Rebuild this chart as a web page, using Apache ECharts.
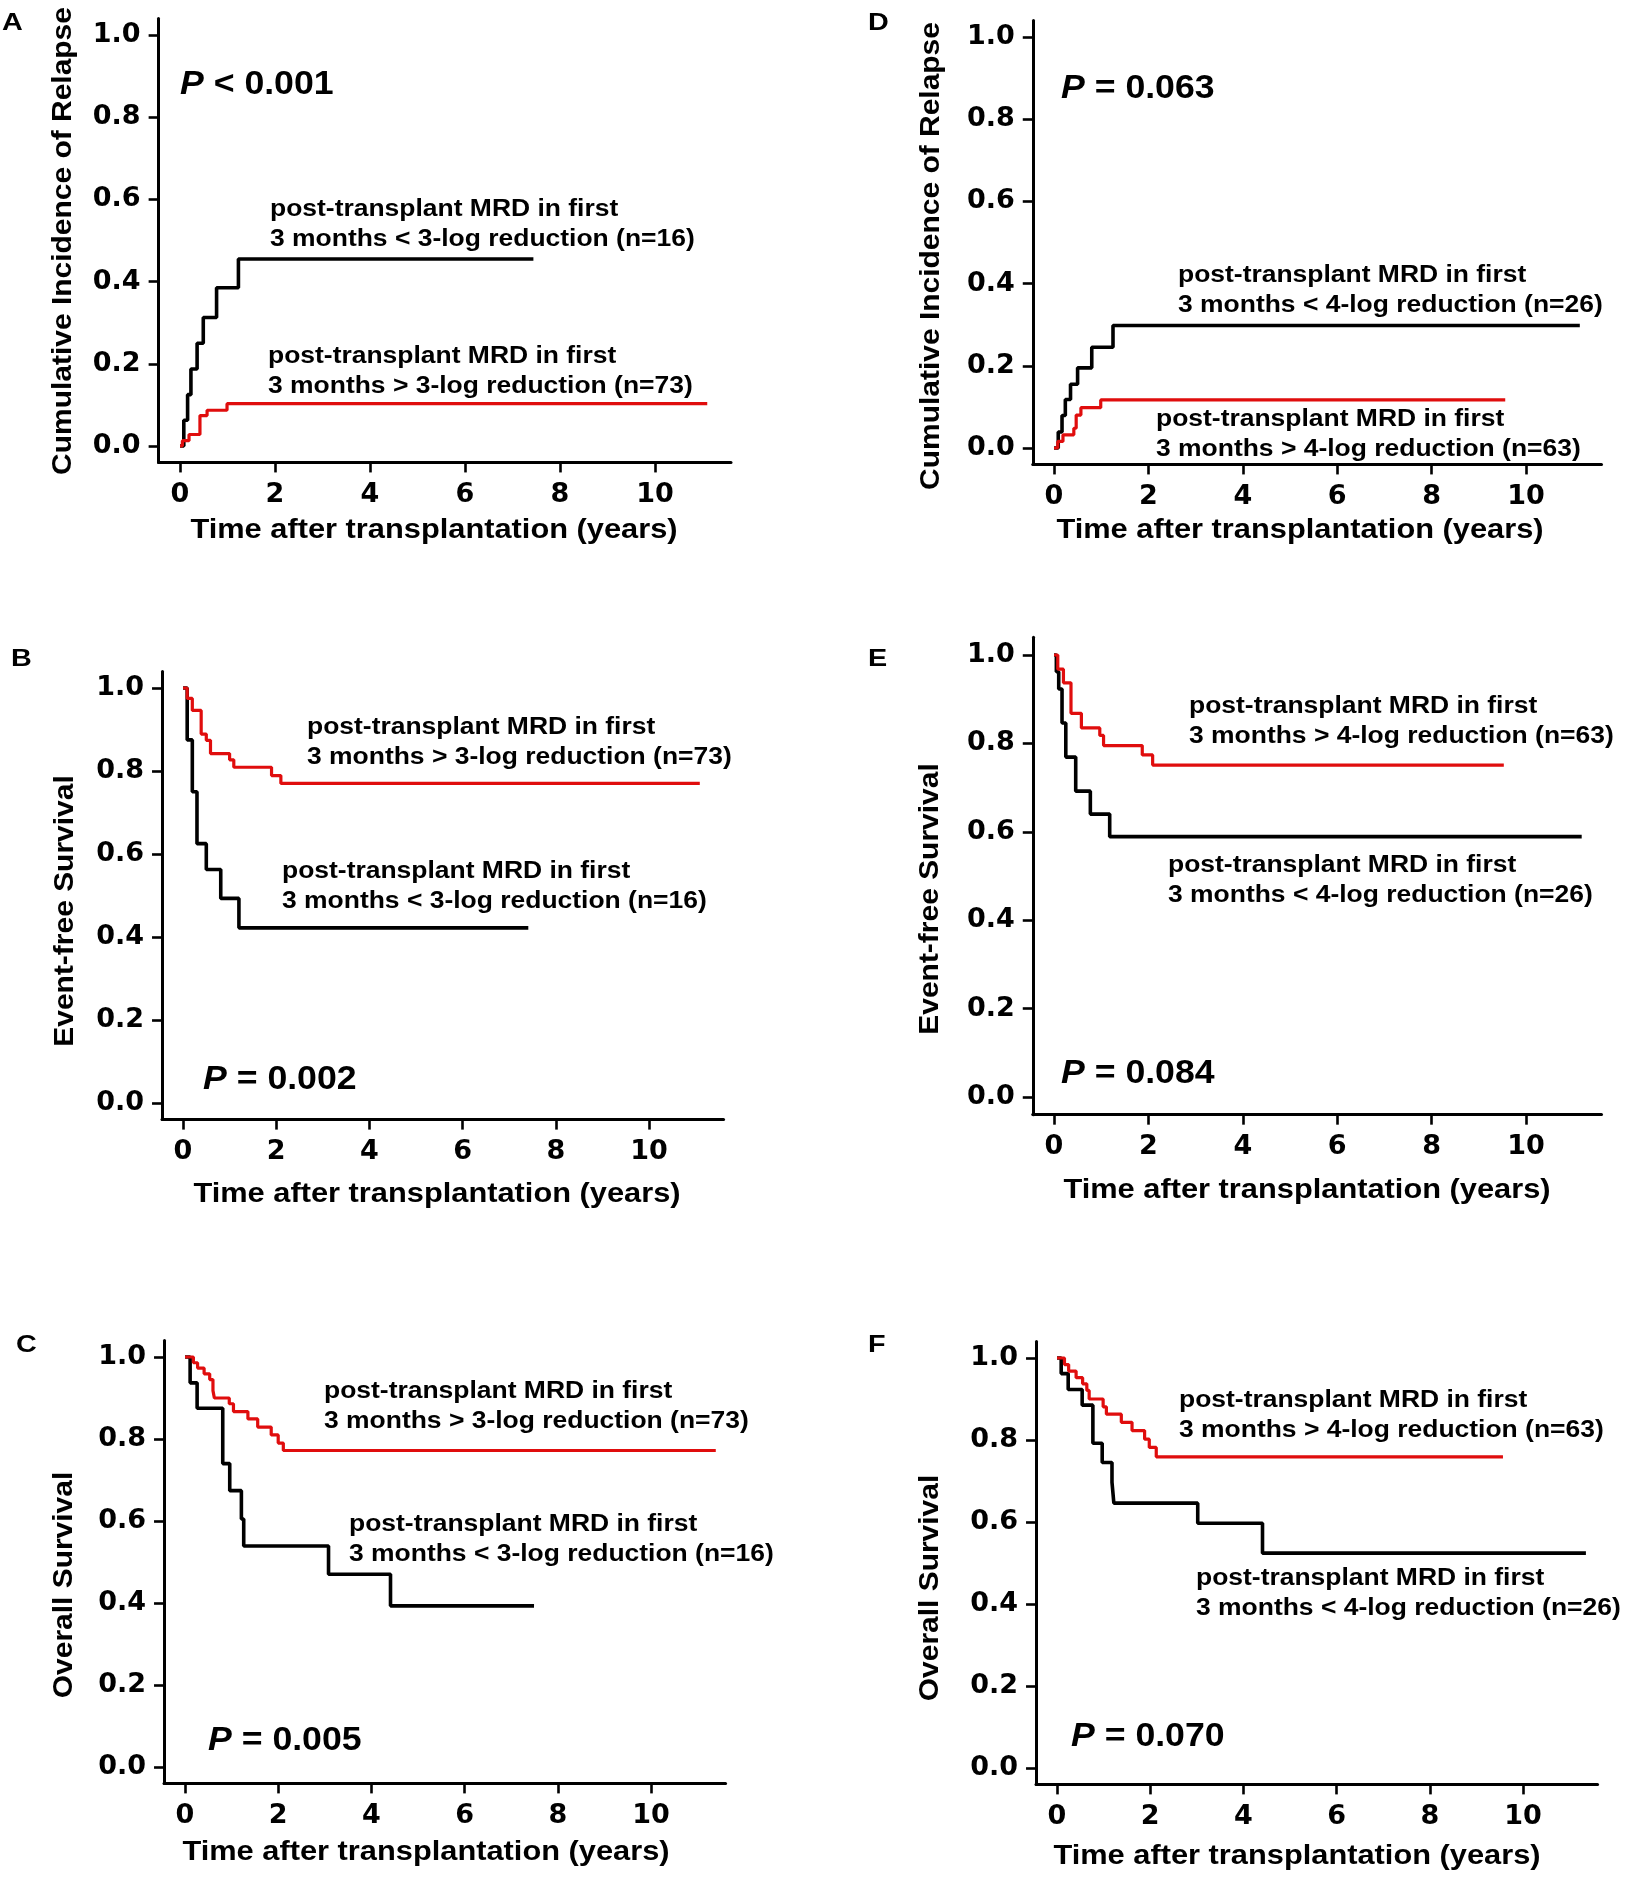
<!DOCTYPE html>
<html>
<head>
<meta charset="utf-8">
<script src="https://cdn.jsdelivr.net/npm/echarts@6/dist/echarts.min.js"></script>
<style>
html,body{margin:0;padding:0;background:#fff;}
#chart{width:1632px;height:1881px;}
</style>
</head>
<body>
<div id="chart"></div>
<script>
// ---------- data (time in years, estimated from the figure) ----------
const xTicks = [0, 2, 4, 6, 8, 10];
const yTicks = [0, 0.2, 0.4, 0.6, 0.8, 1.0];
const xTitle = 'Time after transplantation (years)';

// A: cumulative incidence of relapse, 3-log
const A_black_t = [0, 0.08, 0.16, 0.23, 0.36, 0.49, 0.77, 1.23, 7.44];
const A_black_y = [0, 0.0625, 0.125, 0.1875, 0.25, 0.3125, 0.385, 0.455, 0.455];
const A_red_t = [0, 0.05, 0.19, 0.42, 0.57, 0.99, 11.1];
const A_red_y = [0, 0.013, 0.028, 0.074, 0.087, 0.103, 0.103];

// D: cumulative incidence of relapse, 4-log
const D_black_t = [0, 0.09, 0.17, 0.24, 0.35, 0.5, 0.8, 1.25, 11.14];
const D_black_y = [0, 0.039, 0.079, 0.118, 0.155, 0.195, 0.245, 0.298, 0.298];
const D_red_t = [0, 0.08, 0.19, 0.42, 0.47, 0.57, 0.99, 9.56];
const D_red_y = [0, 0.016, 0.032, 0.048, 0.08, 0.098, 0.117, 0.117];

// B: event-free survival, 3-log
const B_black_t = [0, 0.09, 0.2, 0.3, 0.5, 0.81, 1.2, 7.41];
const B_black_y = [1, 0.875, 0.75, 0.625, 0.5625, 0.493, 0.422, 0.422];
const B_red_t = [0, 0.09, 0.2, 0.39, 0.5, 0.59, 1.0, 1.09, 1.9, 2.1, 11.09];
const B_red_y = [1, 0.975, 0.946, 0.889, 0.874, 0.842, 0.827, 0.809, 0.789, 0.77, 0.77];

// E: event-free survival, 4-log
const E_black_t = [0, 0.05, 0.1, 0.17, 0.25, 0.46, 0.77, 1.18, 11.18];
const E_black_y = [1, 0.962, 0.923, 0.846, 0.769, 0.692, 0.64, 0.589, 0.589];
const E_red_t = [0, 0.08, 0.2, 0.36, 0.58, 0.97, 1.05, 1.87, 2.09, 9.53];
const E_red_y = [1, 0.968, 0.937, 0.868, 0.835, 0.818, 0.795, 0.774, 0.751, 0.751];

// C: overall survival, 3-log
const C_black_t = [0, 0.11, 0.26, 0.81, 0.96, 1.21, 1.26, 3.08, 4.41, 7.49];
const C_black_y = [1, 0.937, 0.875, 0.74, 0.674, 0.605, 0.539, 0.47, 0.393, 0.393];
const C_red_t = [0, 0.18, 0.27, 0.41, 0.53, 0.6, 0.63, 0.95, 1.04, 1.35, 1.56, 1.85, 2.0, 2.11, 11.39];
const C_red_y = [1, 0.986, 0.973, 0.959, 0.945, 0.918, 0.9, 0.886, 0.867, 0.849, 0.829, 0.81, 0.79, 0.772, 0.772];

// F: overall survival, 4-log
const F_black_t = [0, 0.09, 0.24, 0.54, 0.77, 0.97, 1.18, 1.22, 3.02, 4.41, 11.35];
const F_black_y = [1, 0.962, 0.923, 0.885, 0.792, 0.745, 0.697, 0.646, 0.597, 0.524, 0.524];
const F_red_t = [0, 0.16, 0.25, 0.41, 0.55, 0.64, 0.69, 0.99, 1.06, 1.38, 1.61, 1.88, 1.98, 2.13, 9.57];
const F_red_y = [1, 0.984, 0.968, 0.952, 0.937, 0.921, 0.9, 0.881, 0.863, 0.843, 0.823, 0.802, 0.782, 0.759, 0.759];

const panelLetters = ['A', 'D', 'B', 'E', 'C', 'F'];
const yTitles = ['Cumulative Incidence of Relapse', 'Cumulative Incidence of Relapse',
  'Event-free Survival', 'Event-free Survival', 'Overall Survival', 'Overall Survival'];
const pTexts = [['<', '0.001'], ['=', '0.063'], ['=', '0.002'], ['=', '0.084'], ['=', '0.005'], ['=', '0.070']];
const blackLabels = [
  ['post-transplant MRD in first', '3 months < 3-log reduction (n=16)'],
  ['post-transplant MRD in first', '3 months < 4-log reduction (n=26)'],
  ['post-transplant MRD in first', '3 months < 3-log reduction (n=16)'],
  ['post-transplant MRD in first', '3 months < 4-log reduction (n=26)'],
  ['post-transplant MRD in first', '3 months < 3-log reduction (n=16)'],
  ['post-transplant MRD in first', '3 months < 4-log reduction (n=26)']
];
const redLabels = [
  ['post-transplant MRD in first', '3 months > 3-log reduction (n=73)'],
  ['post-transplant MRD in first', '3 months > 4-log reduction (n=63)'],
  ['post-transplant MRD in first', '3 months > 3-log reduction (n=73)'],
  ['post-transplant MRD in first', '3 months > 4-log reduction (n=63)'],
  ['post-transplant MRD in first', '3 months > 3-log reduction (n=73)'],
  ['post-transplant MRD in first', '3 months > 4-log reduction (n=63)']
];
const curves = [
  [A_black_t, A_black_y, A_red_t, A_red_y],
  [D_black_t, D_black_y, D_red_t, D_red_y],
  [B_black_t, B_black_y, B_red_t, B_red_y],
  [E_black_t, E_black_y, E_red_t, E_red_y],
  [C_black_t, C_black_y, C_red_t, C_red_y],
  [F_black_t, F_black_y, F_red_t, F_red_y]
];

// ---------- layout (pixels) ----------
const XMIN = -0.45, XMAX = 11.6, YMIN = -0.04, YMAX = 1.04;
// x0: pixel of t=0, x10: pixel of t=10, y1: pixel of 1.0, y0: pixel of 0.0
const layout = [
  {x0: 180, x10: 655, y1: 35, y0: 446, letter: [2, 24], ytitle: [63, 241], xtitle: [434, 530], p: [180, 85], bl: [270, 210], rl: [268, 357]},
  {x0: 1054, x10: 1526, y1: 37, y0: 448, letter: [868, 24], ytitle: [931, 256], xtitle: [1300, 530], p: [1061, 89], bl: [1178, 276], rl: [1156, 420]},
  {x0: 183, x10: 649, y1: 688, y0: 1103, letter: [11, 660], ytitle: [65, 911], xtitle: [437, 1194], p: [203, 1080], bl: [282, 872], rl: [307, 728]},
  {x0: 1054, x10: 1526, y1: 655, y0: 1097, letter: [868, 660], ytitle: [930, 899], xtitle: [1307, 1190], p: [1061, 1074], bl: [1168, 866], rl: [1189, 707]},
  {x0: 185, x10: 651, y1: 1357, y0: 1767, letter: [16, 1346], ytitle: [64, 1585], xtitle: [426, 1852], p: [208, 1741], bl: [349, 1525], rl: [324, 1392]},
  {x0: 1057, x10: 1523, y1: 1358, y0: 1768, letter: [868, 1346], ytitle: [930, 1588], xtitle: [1297, 1856], p: [1071, 1737], bl: [1196, 1579], rl: [1179, 1401]}
];

const FONT = '"Liberation Sans", Arial, Helvetica, sans-serif';
const TICK_FONT = '"DejaVu Sans", "Liberation Sans", sans-serif';
const RED = '#e00d0d';
const LINE_GAP = 30;

const grids = [], xAxes = [], yAxes = [], series = [], graphics = [];
layout.forEach((L, i) => {
  const ux = (L.x10 - L.x0) / 10;
  const uy = L.y0 - L.y1;
  grids.push({
    left: L.x0 + XMIN * ux,
    top: L.y1 - (YMAX - 1) * uy,
    width: (XMAX - XMIN) * ux,
    height: (YMAX - YMIN) * uy,
    containLabel: false,
    outerBoundsMode: 'none'
  });
  xAxes.push({
    type: 'value', gridIndex: i, min: XMIN, max: XMAX,
    axisLine: {show: true, onZero: false, lineStyle: {color: '#000', width: 3}},
    axisTick: {show: true, customValues: xTicks, length: 10, inside: false, lineStyle: {color: '#000', width: 2.6}},
    axisLabel: {show: true, customValues: xTicks, margin: 19, color: '#000', fontFamily: TICK_FONT, fontWeight: 'bold', fontSize: 27},
    splitLine: {show: false}
  });
  yAxes.push({
    type: 'value', gridIndex: i, min: YMIN, max: YMAX,
    axisLine: {show: true, onZero: false, lineStyle: {color: '#000', width: 3}},
    axisTick: {show: true, customValues: yTicks, length: 10, inside: false, lineStyle: {color: '#000', width: 2.6}},
    axisLabel: {show: true, customValues: yTicks, margin: 18, color: '#000', fontFamily: TICK_FONT, fontWeight: 'bold', fontSize: 27,
      formatter: v => v.toFixed(1)},
    splitLine: {show: false}
  });
  const c = curves[i];
  series.push({
    type: 'line', xAxisIndex: i, yAxisIndex: i, step: 'end', showSymbol: false, silent: true,
    data: c[0].map((t, k) => [t, c[1][k]]),
    lineStyle: {color: '#000', width: 3.6}, itemStyle: {color: '#000'}
  });
  series.push({
    type: 'line', xAxisIndex: i, yAxisIndex: i, step: 'end', showSymbol: false, silent: true,
    data: c[2].map((t, k) => [t, c[3][k]]),
    lineStyle: {color: RED, width: 3.2}, itemStyle: {color: RED}
  });
  // panel letter
  graphics.push({type: 'text', x: L.letter[0], y: L.letter[1], scaleX: 1.25,
    style: {text: panelLetters[i], fill: '#000', font: 'bold 23px ' + FONT, verticalAlign: 'middle', align: 'left'}});
  // y title
  graphics.push({type: 'text', x: L.ytitle[0], y: L.ytitle[1], rotation: Math.PI / 2, scaleX: 1.07,
    style: {text: yTitles[i], fill: '#000', font: 'bold 28px ' + FONT, align: 'center', verticalAlign: 'middle'}});
  // x title
  graphics.push({type: 'text', x: L.xtitle[0], y: L.xtitle[1], scaleX: 1.1,
    style: {text: xTitle, fill: '#000', font: 'bold 28px ' + FONT, align: 'center', verticalAlign: 'middle'}});
  // P value
  graphics.push({type: 'text', x: L.p[0], y: L.p[1], scaleX: 1.08,
    style: {text: '{i|P}{n| ' + pTexts[i][0] + ' ' + pTexts[i][1] + '}', align: 'left', verticalAlign: 'middle',
      rich: {
        i: {fontFamily: FONT, fontWeight: 'bold', fontStyle: 'italic', fontSize: 33, fill: '#000'},
        n: {fontFamily: FONT, fontWeight: 'bold', fontSize: 33, fill: '#000'}
      }}});
  // group labels
  [[blackLabels[i], L.bl], [redLabels[i], L.rl]].forEach(([lines, pos]) => {
    lines.forEach((s, k) => {
      graphics.push({type: 'text', x: pos[0], y: pos[1] + k * LINE_GAP, scaleX: 1.15,
        style: {text: s, fill: '#000', font: 'bold 23px ' + FONT, align: 'left', verticalAlign: 'middle'}});
    });
  });
});

const chart = echarts.init(document.getElementById('chart'), null, {renderer: 'canvas'});
chart.setOption({
  animation: false,
  backgroundColor: '#fff',
  grid: grids, xAxis: xAxes, yAxis: yAxes, series: series,
  graphic: graphics
});
</script>
</body>
</html>
